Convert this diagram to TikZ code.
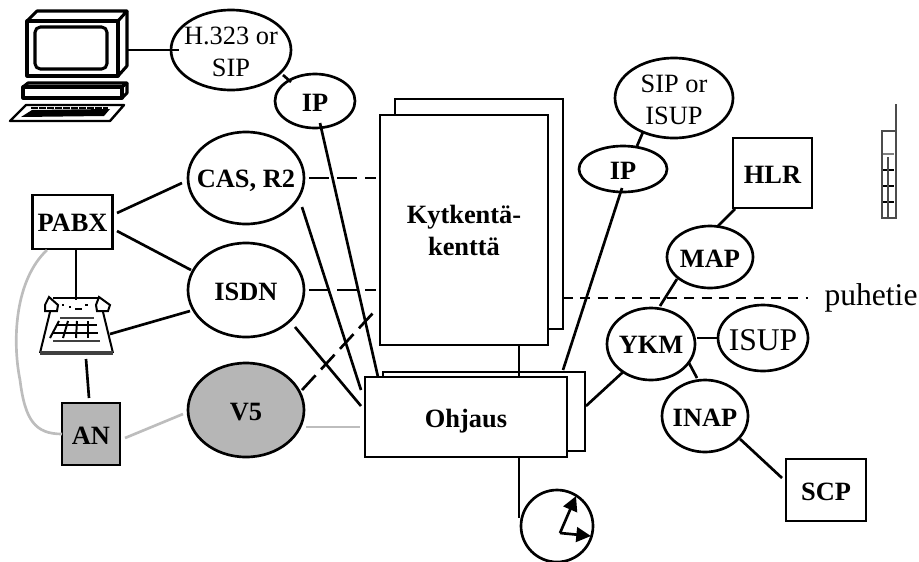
\documentclass[tikz,border=0pt]{standalone}
\usepackage{fontspec}
\setmainfont{Liberation Serif}
\usetikzlibrary{shapes.geometric,calc,arrows.meta}
\newcommand\lbl[2]{\makebox[0pt]{\smash{\raisebox{#1}{#2}}}}
\newcommand\twolines[1]{\begin{tabular}[t]{@{}c@{}}#1\end{tabular}}
\definecolor{shade}{HTML}{B6B6B6}
\definecolor{lightline}{HTML}{BDBDBD}
\tikzset{
  txt/.style={font=\fontsize{19.8}{24}\selectfont},
  bigtxt/.style={font=\fontsize{23.7}{28}\selectfont},
  bold/.style={font=\fontsize{19.8}{24}\selectfont\bfseries},
  ell/.style 2 args={ellipse,draw=black,fill=white,line width=2pt,inner sep=0pt,outer sep=0pt,minimum width=#1*1.5pt,minimum height=#2*1.5pt},
  box/.style 2 args={rectangle,draw=black,fill=white,line width=2.1pt,inner sep=0pt,outer sep=0pt,minimum width=#1*0.75pt,minimum height=#2*0.75pt},
  conn/.style={draw=black,line width=2pt},
  grayconn/.style={draw=lightline,line width=2pt},
  dashconn/.style={draw=black,line width=2pt,dash pattern=on 15pt off 6pt},
  maindash/.style={draw=black,line width=2.1pt,dash pattern=on 7.5pt off 5.5pt},
  icon/.style={draw=black,line width=2.3pt,line join=round},
  thinicon/.style={draw=black,line width=1.5pt},
  hand/.style={draw=black,line width=2pt,-{Triangle[length=11pt,width=11pt]}},
}
\begin{document}
\begin{tikzpicture}[x=0.75pt,y=-0.75pt]
\useasboundingbox (0,0) rectangle (919,561);

% computer
\coordinate (pc) at (127,50);
\draw[icon] (27,21) rectangle (118,76);
\draw[icon] (27,21) -- (37,11) -- (127,11) -- (118,21);
\draw[icon] (127,11) -- (127,66) -- (118,76);
\draw[icon,rounded corners=4pt] (35,27) rectangle (107,69);
\draw[icon] (23,87) rectangle (122,98);
\draw[icon] (23,87) -- (28,83) -- (127,83) -- (122,87);
\draw[icon] (127,83) -- (127,93) -- (122,98);
\draw[icon,line width=1.8pt] (10,121) -- (26,105) -- (124,105) -- (110,121) -- cycle;
\fill[black] (21,117) -- (32,110) -- (110,109) -- (104,116) -- cycle;
\draw[black,line width=1.5pt,dash pattern=on 5pt off 1pt] (31,107.5) -- (108,107.5);

% telephone
\coordinate (phone) at (76,335);
\draw[thinicon] (53,298) -- (98,298);
\draw[thinicon,fill=white] (49,297) -- (45,305) -- (45,311) -- (57,311) -- (58,305) -- cycle;
\draw[thinicon,fill=white] (99,297) -- (110,305) -- (108,311) -- (97,311) -- (96,305) -- cycle;
\draw[thinicon] (50,312) -- (40,353);
\draw[thinicon] (103,312) -- (113,353);
\draw[draw=black!75,line width=2.4pt] (40,353) -- (113,353);
\draw[draw=black!75,line width=1.3pt] (60,318) -- (94,318);
\draw[thinicon] (57,325) -- (97,325);
\draw[thinicon] (52,333) -- (98,333);
\draw[draw=black!75,line width=1.6pt] (53,341) -- (100,341);
\draw[thinicon] (59,321) -- (50,338);
\draw[thinicon] (68,321) -- (63,338);
\draw[thinicon] (77,321) -- (76,338);
\draw[thinicon] (88,321) -- (88,338);
\draw[draw=black,line width=1pt] (62,305) -- (64,305) (69,307) -- (71,307) (75,309) -- (82,309) (85,305) -- (88,305);

% mobile phone
\draw[draw=black!70,line width=1.5pt] (882,131) rectangle (896,218);
\draw[draw=black!70,line width=1.9pt] (896,104) -- (896,155);
\draw[draw=black!50,line width=1pt] (883,154) -- (894,154);
\draw[thinicon,line width=1.1pt] (883,170) -- (894,170) (883,186) -- (894,186) (883,202) -- (894,202);
\draw[draw=black!70,line width=1.1pt] (888,157) -- (888,217);

% switching and control blocks
\node[box={168}{230}] (kytb) at (479,214) {};
\node[box={168}{230},bold] (kyt) at (464,230) {\lbl{5.25pt}{\twolines{Kytkentä-\\kenttä}}};
\node[box={202}{79}] (ohjb) at (484,411.5) {};
\node[box={202}{80},bold] (ohj) at (466,417) {\lbl{-7.5pt}{Ohjaus}};

% protocol ellipses
\node[ell={60}{40},txt] (h323) at (231,50) {\lbl{4.5pt}{\twolines{H.323 or\\SIP}}};
\node[ell={40}{27},bold] (ipa) at (315,101) {\lbl{-7.5pt}{IP}};
\node[ell={58}{46},bold] (cas) at (246,178) {\lbl{-7pt}{CAS, R2}};
\node[ell={58}{47},bold] (isdn) at (246,290) {\lbl{-7.5pt}{ISDN}};
\node[ell={58}{47},bold,fill=shade] (vfive) at (246,410) {\lbl{-7.5pt}{V5}};
\node[ell={59}{40},txt] (sip) at (674,98) {\lbl{4.5pt}{\twolines{SIP or\\ISUP}}};
\node[ell={44}{23},bold] (ipb) at (623,169) {\lbl{-7.5pt}{IP}};
\node[ell={43}{31},bold] (map) at (710,257) {\lbl{-7.5pt}{MAP}};
\node[ell={44}{36},bold] (ykm) at (651,344) {\lbl{-7pt}{YKM}};
\node[ell={45}{33},bigtxt] (isup) at (763,338) {\lbl{-9pt}{ISUP}};
\node[ell={43}{36},bold] (inap) at (705,416) {\lbl{-7.5pt}{INAP}};

% square nodes
\node[box={79.5}{54},bold] (pabx) at (72.5,222) {\lbl{-7pt}{PABX}};
\node[box={58}{62},bold,fill=shade] (an) at (91,434) {\lbl{-7.5pt}{AN}};
\node[box={79}{70},bold] (hlr) at (772.5,173) {\lbl{-7.5pt}{HLR}};
\node[box={80}{62},bold] (scp) at (826,490) {\lbl{-7.5pt}{SCP}};
\node[circle,draw=black,line width=2pt,inner sep=0pt,minimum size=54pt] (clk) at (557,526) {};
\node[bigtxt,inner sep=0pt] (puh) at (871,298) {\lbl{-5.25pt}{puhetie}};

% connectors
\draw[conn] (pc) -- ($(h323)+(-52,0)$);
\draw[conn] ($(h323)+(52,25)$) -- ($(ipa)+(-24,-19)$);
\draw[conn] ($(ipa)+(5,22)$) -- ($(ohj)+(-88,-40)$);
\draw[conn] ($(pabx)+(44.5,-9)$) -- ($(cas)+(-64,5)$);
\draw[conn] ($(pabx)+(44.5,9)$) -- ($(isdn)+(-55,-20)$);
\draw[conn] ($(pabx)+(3.5,27)$) -- ($(phone)+(0,-35)$);
\draw[conn] ($(phone)+(34,-1)$) -- ($(isdn)+(-56,21)$);
\draw[conn] ($(phone)+(10,24)$) -- ($(an)+(-2,-36)$);
\draw[grayconn] ($(pabx)+(-25.5,28)$) .. controls (15,280) and (12,340) .. (20,380) .. controls (25,420) and (35,434) .. ($(an)+(-29,0)$);
\draw[grayconn] ($(an)+(34,4)$) -- ($(vfive)+(-63,4)$);
\draw[grayconn] ($(vfive)+(60,17)$) -- ($(ohj)+(-106,10)$);
\draw[dashconn] ($(cas)+(63,0)$) -- ($(kyt)+(-88,-52)$);
\draw[dashconn] ($(isdn)+(63,0)$) -- ($(kyt)+(-88,60)$);
\draw[dashconn] ($(vfive)+(56,-20)$) -- ($(kyt)+(-91,83)$);
\draw[conn] ($(cas)+(56,29)$) -- ($(ohj)+(-105,-27)$);
\draw[conn] ($(isdn)+(49,37)$) -- ($(ohj)+(-105,-11)$);
\draw[conn] ($(kyt)+(55,115)$) -- ($(ohj)+(53,-40)$);
\draw[conn] ($(ohj)+(53,40)$) -- ($(clk)+(-38,-8)$);
\draw[conn] ($(ohjb)+(79,-41.5)$) -- ($(ipb)+(-1,19)$);
\draw[conn] ($(ipb)+(14,-23)$) -- ($(sip)+(-31,34)$);
\draw[conn] ($(hlr)+(-37.5,36)$) -- ($(map)+(8,-31)$);
\draw[conn] ($(map)+(-33,22)$) -- ($(ykm)+(9,-38)$);
\draw[maindash] ($(kytb)+(84,84)$) -- ($(puh)+(-63,0)$);
\draw[conn] ($(ykm)+(46,-6)$) -- ($(isup)+(-45,0)$);
\draw[conn] ($(ykm)+(-28,28)$) -- ($(ohjb)+(102,-5.5)$);
\draw[conn] ($(ykm)+(38,19)$) -- ($(inap)+(-8,-38)$);
\draw[conn] ($(inap)+(35,23)$) -- ($(scp)+(-44,-12)$);

% clock hands
\draw[hand] ($(clk)+(3,7)$) -- ($(clk)+(19,-30)$);
\draw[hand] ($(clk)+(3,7)$) -- ($(clk)+(34,10)$);
\end{tikzpicture}
\end{document}
